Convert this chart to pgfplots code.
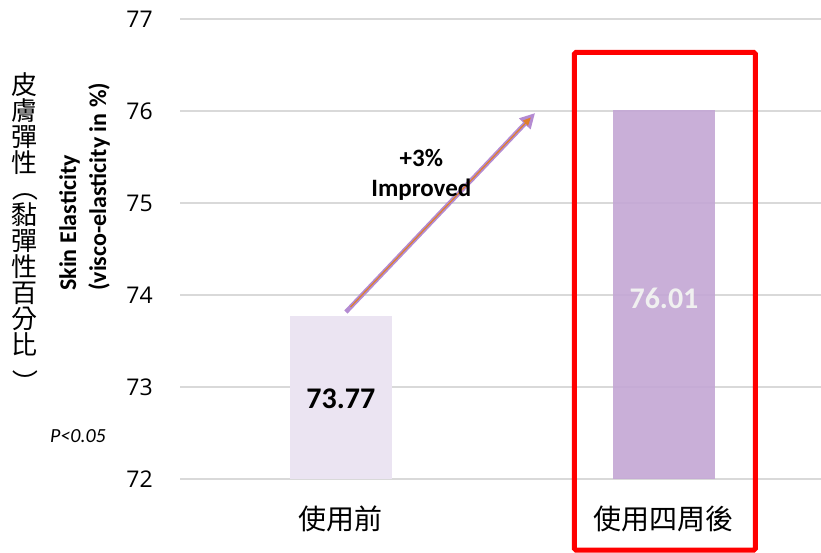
\documentclass[border=0pt]{standalone}
\usepackage{pgfplots}
\pgfplotsset{compat=1.18}
\usepackage{fontspec}
\setmainfont{Carlito}
\newfontfamily\osans{Open Sans}
\newfontfamily\cjk{Noto Sans CJK TC}
\usetikzlibrary{arrows.meta}

\definecolor{barlight}{HTML}{EBE4F2}
\definecolor{bardark}{HTML}{C4A8D5}
\definecolor{gridgray}{HTML}{D9D9D9}
\definecolor{arrowpurple}{HTML}{B48BD2}
\definecolor{arroworange}{HTML}{E0802A}

\newcommand{\vbrk}[1]{\rotatebox[origin=c]{-90}{#1}}

\begin{document}
\begin{tikzpicture}[x=1pt,y=1pt]
\begin{axis}[
    at={(180pt,73pt)}, anchor=south west,
    scale only axis, width=641pt, height=460pt,
    xmin=-0.498, xmax=1.486,
    ymin=72, ymax=77,
    ytick={72,...,77},
    xtick={0,1},
    xticklabels={使用前,使用四周後},
    axis line style={draw=none},
    tick style={draw=none},
    ymajorgrids,
    grid style={line width=1.5pt, gridgray},
    /pgf/number format/assume math mode=true,
    yticklabel style={font=\osans\fontsize{23}{23}\selectfont, inner sep=0pt, anchor=east, xshift=-27pt},
    xticklabel style={font=\cjk\fontsize{28}{28}\selectfont, anchor=center, yshift=-36pt},
    ybar, bar width=102pt, bar shift=0pt,
    clip mode=individual,
]
    % before / after 4 weeks
    \addplot[fill=barlight, draw=none] coordinates {(0,73.77)};
    \addplot[fill=bardark, draw=none, fill opacity=0.92] coordinates {(1,76.01)};

    \node[font=\bfseries\fontsize{30}{30}\selectfont] at (axis cs:0,72.87) {73.77};
    \node[font=\bfseries\fontsize{30}{30}\selectfont, text=white!94!black] at (axis cs:1,73.96) {76.01};

    % highlight box
    \draw[red, line width=5pt, rounded corners=1.5pt] (axis cs:0.723,71.228) rectangle (axis cs:1.283,76.636);

    % arrow
    \draw[arrowpurple, line width=4.5pt, -{Triangle[length=15pt,width=15pt]}]
        (axis cs:0.0155,73.815) -- (axis cs:0.601,75.978);
    \draw[arroworange, line width=1.2pt, -{Triangle[length=8pt,width=7pt]}]
        (axis cs:0.03,73.87) -- (axis cs:0.588,75.93);

    \node[align=center, font=\bfseries\fontsize{25}{30}\selectfont] at (axis cs:0.249,75.304) {+3\%\\Improved};
\end{axis}

\node[align=center, anchor=north, inner sep=0pt, font=\cjk\fontsize{26}{26}\selectfont] at (25,480)
    {皮\\膚\\彈\\性\\\vbrk{（}\\黏\\彈\\性\\百\\分\\比\\\raisebox{-12pt}{\vbrk{）}}};
\node[rotate=90, anchor=north west, inner sep=0pt, align=left, font=\bfseries\fontsize{24}{30}\selectfont] at (59,261)
    {Skin Elasticity\\(visco-elasticity in \%)};
\node[font=\itshape\fontsize{20}{20}\selectfont] at (78,116) {P<0.05};

\pgfresetboundingbox
\path[use as bounding box] (0,0) rectangle (821,552);
\end{tikzpicture}
\end{document}
